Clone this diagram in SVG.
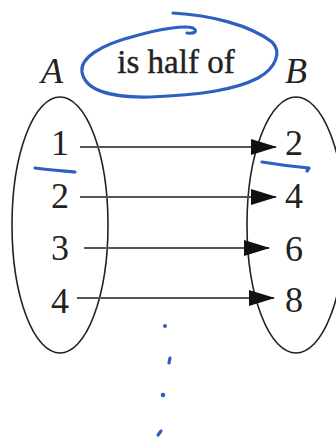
<svg xmlns="http://www.w3.org/2000/svg" width="336" height="438" viewBox="0 0 336 438">
<style>
.set{fill:none;stroke:#222;stroke-width:1.6}
.num{font-family:"Liberation Serif",serif;font-size:36px;fill:#222;text-anchor:middle}
.lab{font-family:"Liberation Serif",serif;font-size:36px;font-style:italic;fill:#222;text-anchor:middle}
.ink{fill:none;stroke:#2f5fbf;stroke-width:3.2;stroke-linecap:round;stroke-linejoin:round}
.arr{stroke:#555;stroke-width:1.8;fill:none}
</style>
<defs>
<marker id="ah" markerWidth="26" markerHeight="16" refX="25" refY="8" markerUnits="userSpaceOnUse" orient="auto">
<path d="M0,0 L26,8 L0,16 Z" fill="#111"/>
</marker>
</defs>
<rect width="336" height="438" fill="#fff"/>
<g id="setA">
<ellipse class="set" cx="60" cy="225" rx="48" ry="128"/>
<text class="lab" x="52" y="83">A</text>
<text class="num" x="60" y="155">1</text>
<text class="num" x="60" y="208">2</text>
<text class="num" x="60" y="260">3</text>
<text class="num" x="60" y="313">4</text>
</g>
<g id="setB">
<ellipse class="set" cx="296" cy="225" rx="49" ry="128"/>
<text class="lab" x="296" y="83">B</text>
<text class="num" x="294" y="155">2</text>
<text class="num" x="294" y="208">4</text>
<text class="num" x="294" y="261">6</text>
<text class="num" x="294" y="312">8</text>
</g>
<g id="relation">
<text x="176" y="73" font-family="Liberation Serif, serif" font-size="33" fill="#222" stroke="#222" stroke-width="0.4" text-anchor="middle">is half of</text>
<path class="ink" d="M173,13 C210,15 250,25 272,42 C282,52 276,68 258,78 C235,90 200,95 150,97 C110,98 85,90 82,72 C80,58 100,45 135,36 C160,29 185,25 193,28 C198,31 195,34 187,33"/>
</g>
<g id="connectors">
<line class="arr" x1="80" y1="147" x2="276" y2="147" marker-end="url(#ah)"/>
<line class="arr" x1="80" y1="197" x2="276" y2="197" marker-end="url(#ah)"/>
<line class="arr" x1="84" y1="248" x2="269" y2="248" marker-end="url(#ah)"/>
<line class="arr" x1="77" y1="298" x2="274" y2="298" marker-end="url(#ah)"/>
</g>
<g id="annotations">
<path class="ink" d="M35,168 C50,170 65,171 75,172"/>
<path class="ink" d="M262,162 C280,165 298,167 309,168 L307,171"/>
<circle cx="165" cy="326" r="2" fill="#2f5fbf"/>
<path class="ink" d="M169,363 L170,358" stroke-width="2.5"/>
<circle cx="163" cy="395" r="2.3" fill="#2f5fbf"/>
<path class="ink" d="M158,435 L161,431" stroke-width="2.5"/>
</g>
</svg>
